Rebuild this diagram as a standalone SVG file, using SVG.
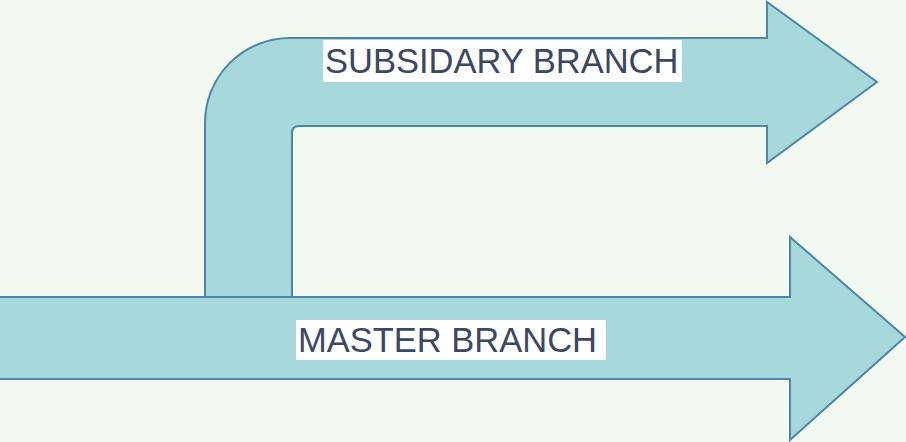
<svg xmlns="http://www.w3.org/2000/svg" width="906" height="442" viewBox="0 0 906 442">
<style>
.arrow{fill:#a7d8db;stroke:#4f86a6;stroke-width:2;stroke-linejoin:miter}
.lblbg{fill:#ffffff}
.lbl{font-family:"Liberation Sans",Arial,sans-serif;font-size:34.5px;fill:#3b4763}
</style>
<rect x="0" y="0" width="906" height="442" fill="#f1f9f0"/>
<g id="master">
<path class="arrow" d="M -3 297 L 790 297 L 790 237 L 905 337 L 790 440 L 790 379 L -3 379 Z"/>
<rect class="lblbg" x="296" y="320" width="310" height="40"/>
<text class="lbl" x="298" y="352">MASTER BRANCH</text>
</g>
<g id="subsidiary">
<path class="arrow" d="M 205 297 L 205 123 A 85 85 0 0 1 290 38 L 767 38 L 767 2 L 877 82 L 767 163 L 767 126 L 299 126 Q 292 126 292 133 L 292 297 Z"/>
<rect class="lblbg" x="323" y="40" width="359" height="42"/>
<text class="lbl" x="325" y="73">SUBSIDARY BRANCH</text>
</g>
<g id="connectors"></g>
</svg>
